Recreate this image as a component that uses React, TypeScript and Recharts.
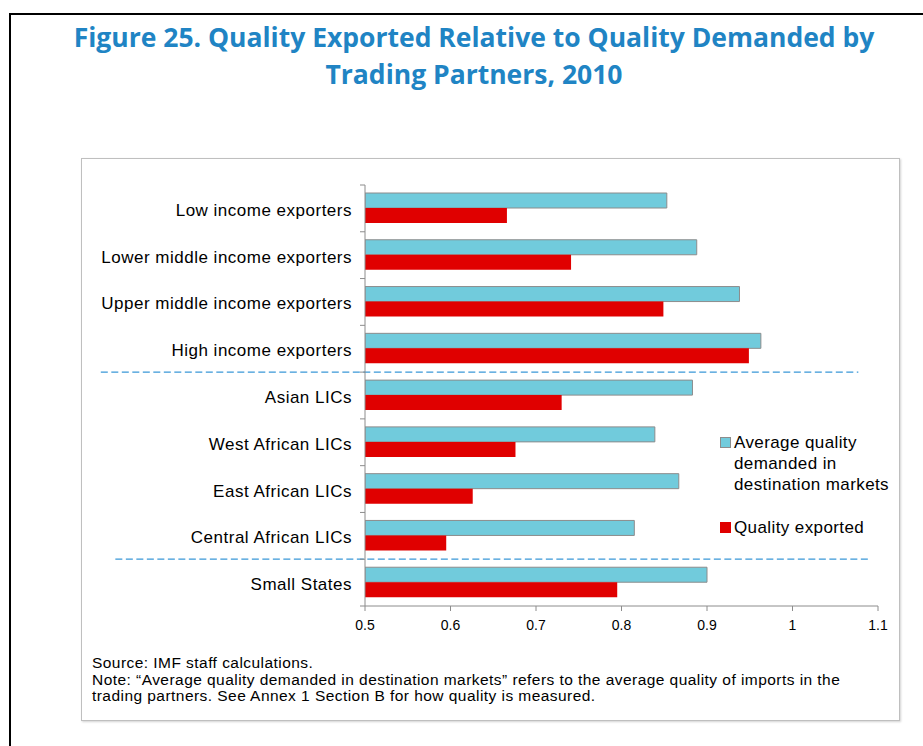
import React from 'react';
import { BarChart, Bar, XAxis, YAxis, ReferenceLine, Legend } from 'recharts';

const categories = [
  'Low income exporters',
  'Lower middle income exporters',
  'Upper middle income exporters',
  'High income exporters',
  'Asian LICs',
  'West African LICs',
  'East African LICs',
  'Central African LICs',
  'Small States',
];
const demanded = [0.853, 0.888, 0.938, 0.963, 0.883, 0.839, 0.867, 0.815, 0.9];
const exported = [0.666, 0.741, 0.849, 0.949, 0.73, 0.676, 0.626, 0.595, 0.795];
const xTicks = [0.5, 0.6, 0.7, 0.8, 0.9, 1, 1.1];
const groupStarts = ['Asian LICs', 'Small States'];
const seriesNames = ['Average quality demanded in destination markets', 'Quality exported'];

const data = categories.map((c, i) => ({ category: c, demanded: demanded[i], exported: exported[i] }));

const BLUE = '#71CBDC';
const RED = '#E00000';
const AXIS = '#8c8c8c';
const DASH = '#3A98D8';
const FONT = '"Liberation Sans", Arial, sans-serif';
const TICK_MARGIN = 13;

const CategoryTick = (props: any) => {
  const { x, y, payload, index } = props;
  const half = payload && payload.offset ? payload.offset : 0;
  const ax = x + TICK_MARGIN;
  const isLast = index === categories.length - 1;
  return (
    <g>
      <line x1={ax - 5} x2={ax} y1={y - half} y2={y - half} stroke={AXIS} />
      {isLast && <line x1={ax - 5} x2={ax} y1={y + half} y2={y + half} stroke={AXIS} />}
      <text
        x={x}
        y={y}
        dy={7.5}
        textAnchor="end"
        fill="#000"
        style={{ fontFamily: FONT, fontSize: 17, letterSpacing: 0.5 }}
      >
        {payload.value}
      </text>
    </g>
  );
};

const renderLegend = (props: any) => {
  const payload = props.payload || [];
  return (
    <div style={{ fontFamily: FONT, fontSize: 17, letterSpacing: 0.4, color: '#000', lineHeight: '21px' }}>
      {payload.map((p: any, i: number) => (
        <div key={i} style={{ display: 'flex', alignItems: 'flex-start', marginBottom: i === 0 ? 22 : 0 }}>
          <div
            style={{
              width: i === 0 ? 9 : 11,
              height: i === 0 ? 9 : 11,
              marginTop: 5,
              marginRight: 3,
              background: p.color,
              border: i === 0 ? '1px solid #8c8c8c' : 'none',
              flexShrink: 0,
            }}
          />
          <div style={{ width: 170 }}>{p.value}</div>
        </div>
      ))}
    </div>
  );
};

export default function App() {
  return (
    <div style={{ position: 'absolute', left: 0, top: 0, width: 923, height: 746, background: '#fff', overflow: 'hidden' }}>
      <div style={{ position: 'absolute', left: 9, top: 13, width: 914, height: 733, borderLeft: '2px solid #000', borderTop: '2px solid #000' }} />
      <div
        style={{
          position: 'absolute',
          left: 0,
          top: 19,
          width: 948,
          textAlign: 'center',
          fontFamily: '"Open Sans", sans-serif',
          fontWeight: 700,
          fontSize: 26.5,
          lineHeight: '37px',
          color: '#2084C4',
        }}
      >
        Figure 25. Quality Exported Relative to Quality Demanded by
        <br />
        Trading Partners, 2010
      </div>
      <div
        style={{
          position: 'absolute',
          left: 81,
          top: 158,
          width: 817,
          height: 561,
          border: '1px solid #bfbfbf',
          boxShadow: '1px 1px 2px rgba(0,0,0,0.18)',
        }}
      />
      <div style={{ position: 'absolute', left: 81, top: 158 }}>
        <BarChart
          width={818}
          height={478}
          data={data}
          layout="vertical"
          margin={{ top: 27, right: 21, bottom: 0, left: 0 }}
          barSize={15}
          barGap={0}
        >
          <XAxis
            type="number"
            domain={[0.5, 1.1]}
            ticks={xTicks}
            allowDataOverflow
            height={30}
            axisLine={{ stroke: AXIS }}
            tickLine={{ stroke: AXIS }}
            tickSize={5}
            tickMargin={9}
            tick={{ fontSize: 14, fill: '#000', fontFamily: FONT }}
            tickFormatter={(v: number) => String(v)}
          />
          <YAxis
            type="category"
            dataKey="category"
            width={284}
            axisLine={{ stroke: AXIS }}
            tickLine={false}
            tickSize={0}
            tickMargin={TICK_MARGIN}
            interval={0}
            tick={<CategoryTick />}
          />
          <Bar
            dataKey="demanded"
            name={seriesNames[0]}
            fill={BLUE}
            stroke={AXIS}
            strokeWidth={1}
            isAnimationActive={false}
          />
          <Bar dataKey="exported" name={seriesNames[1]} fill={RED} isAnimationActive={false} />
          <ReferenceLine
            ifOverflow="visible"
            position="start"
            segment={[{ x: 0.191, y: groupStarts[0] }, { x: 1.077, y: groupStarts[0] }]}
            stroke={DASH}
            strokeWidth={1.3}
            strokeDasharray="7 3.5"
          />
          <ReferenceLine
            ifOverflow="visible"
            position="start"
            segment={[{ x: 0.208, y: groupStarts[1] }, { x: 1.091, y: groupStarts[1] }]}
            stroke={DASH}
            strokeWidth={1.3}
            strokeDasharray="7 3.5"
          />
          <Legend
            layout="horizontal"
            verticalAlign="middle"
            align="center"
            content={renderLegend}
            wrapperStyle={{ position: 'absolute', left: 639, top: 274, width: 180 }}
          />
        </BarChart>
      </div>
      <div
        style={{
          position: 'absolute',
          left: 92,
          top: 655,
          width: 800,
          fontFamily: FONT,
          fontSize: 15.5,
          letterSpacing: 0.45,
          lineHeight: '16.5px',
          color: '#000',
        }}
      >
        Source: IMF staff calculations.
        <br />
        Note: “Average quality demanded in destination markets” refers to the average quality of imports in the
        <br />
        trading partners. See Annex 1 Section B for how quality is measured.
      </div>
    </div>
  );
}
